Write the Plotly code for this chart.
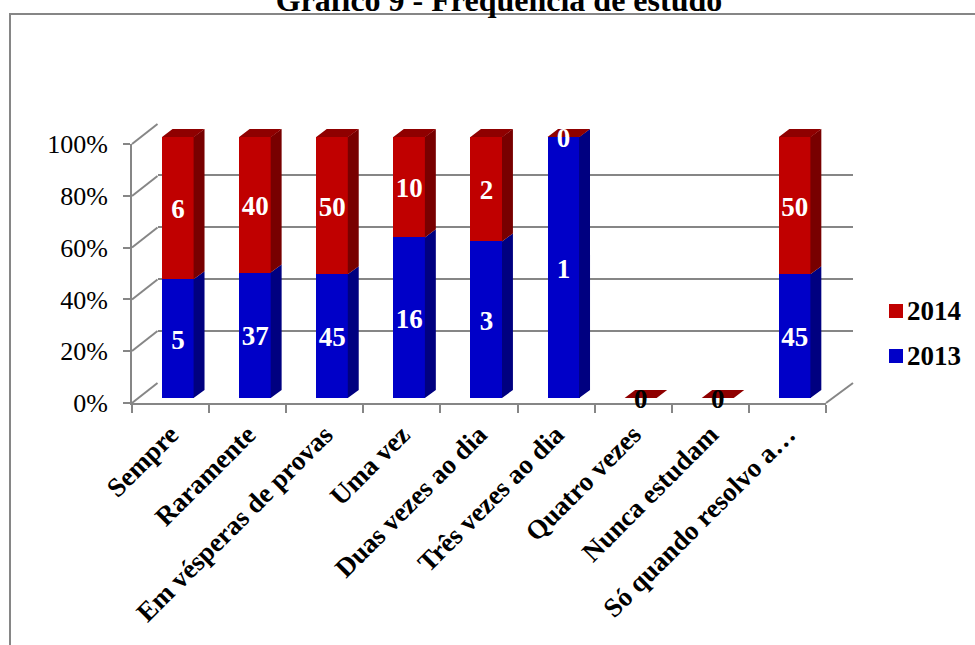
import plotly.graph_objects as go

categories = ["Sempre", "Raramente", "Em vésperas de provas", "Uma vez", "Duas vezes ao dia",
              "Três vezes ao dia", "Quatro vezes", "Nunca estudam", "Só quando resolvo a…"]
values_2013 = [5, 37, 45, 16, 3, 1, 0, 0, 45]
values_2014 = [6, 40, 50, 10, 2, 0, 0, 0, 50]
series_names = ["2014", "2013"]

W, H = 975, 645
GREY = "#868686"
FONT = "Liberation Serif"
RED, RED_SIDE, RED_TOP = "#C00000", "#780000", "#8F0000"
BLUE, BLUE_SIDE = "#0000C8", "#000080"
BAR_W = 0.415
DX, DY = 0.136, 3.07
SEAM = 0.006
LABEL_DROP = 1.3


def px(x):
    return x / W


def py(y):
    return 1 - y / H


idx = list(range(len(categories)))
totals = [a + b for a, b in zip(values_2013, values_2014)]
pct13 = [100 * a / t if t else 0 for a, t in zip(values_2013, totals)]
pct14 = [100 * b / t if t else 0 for b, t in zip(values_2014, totals)]
tops = [a + b for a, b in zip(pct13, pct14)]


def side_faces(lower, upper):
    xs, ys = [], []
    for i, lo, hi in zip(idx, lower, upper):
        if hi <= lo:
            continue
        r = i + BAR_W / 2
        xs += [r - SEAM, r + DX, r + DX, r - SEAM, r - SEAM, None]
        ys += [lo, lo + DY, hi + DY, hi, lo, None]
    return xs, ys


def top_faces(level):
    xs, ys = [], []
    for i, y in zip(idx, level):
        l, r = i - BAR_W / 2, i + BAR_W / 2
        xs += [l, r, r + DX, l + DX, l, None]
        ys += [y, y, y + DY, y + DY, y, None]
    return xs, ys


fig = go.Figure()

# back wall (gridlines)
fig.add_trace(go.Scatter(x=[0], y=[0], mode="none", showlegend=False, hoverinfo="skip",
                         xaxis="x", yaxis="y"))
# front frame (tick labels)
fig.add_trace(go.Scatter(x=categories, y=[0] * len(categories), mode="none", showlegend=False,
                         hoverinfo="skip", xaxis="x2", yaxis="y2"))

# bars
fig.add_trace(go.Bar(x=idx, y=values_2013, name="2013", marker_color=BLUE, width=BAR_W,
                     marker_line_width=0, xaxis="x3", yaxis="y3", hoverinfo="skip"))
fig.add_trace(go.Bar(x=idx, y=values_2014, name="2014", marker_color=RED, width=BAR_W,
                     marker_line_width=0, xaxis="x3", yaxis="y3", hoverinfo="skip"))

zeros = [0] * len(idx)
for (lo, hi, col) in [(zeros, pct13, BLUE_SIDE), (pct13, tops, RED_SIDE)]:
    xs, ys = side_faces(lo, hi)
    fig.add_trace(go.Scatter(x=xs, y=ys, mode="none", fill="toself", fillcolor=col,
                             showlegend=False, hoverinfo="skip", xaxis="x3", yaxis="y3",
                             cliponaxis=False))
xs, ys = top_faces(tops)
fig.add_trace(go.Scatter(x=xs, y=ys, mode="none", fill="toself", fillcolor=RED_TOP,
                         showlegend=False, hoverinfo="skip", xaxis="x3", yaxis="y3",
                         cliponaxis=False))

# data labels
lab13 = [i for i in idx if values_2013[i] > 0]
fig.add_trace(go.Scatter(x=lab13, y=[pct13[i] / 2 - LABEL_DROP for i in lab13],
                         text=[str(values_2013[i]) for i in lab13], mode="text",
                         textfont=dict(family=FONT, size=27, color="white", weight="bold"),
                         textposition="middle center", showlegend=False, hoverinfo="skip",
                         xaxis="x3", yaxis="y3", cliponaxis=False))
fig.add_trace(go.Scatter(x=idx, y=[a + b / 2 - LABEL_DROP for a, b in zip(pct13, pct14)],
                         text=[str(v) for v in values_2014], mode="text",
                         textfont=dict(family=FONT, size=27, weight="bold",
                                       color=["black" if t == 0 else "white" for t in totals]),
                         textposition="middle center", showlegend=False, hoverinfo="skip",
                         xaxis="x3", yaxis="y3", cliponaxis=False))

shapes = [dict(type="rect", xref="paper", yref="paper", x0=px(10), x1=px(1100), y0=py(700), y1=py(14),
               line=dict(color=GREY, width=2), layer="below")]
# left wall and floor diagonals
for y in [144, 196, 247.5, 299.5, 351, 403]:
    shapes.append(dict(type="line", xref="paper", yref="paper", x0=px(132), x1=px(157.5),
                       y0=py(y), y1=py(y - 20), line=dict(color=GREY, width=2), layer="below"))
shapes.append(dict(type="line", xref="paper", yref="paper", x0=px(826), x1=px(853),
                   y0=py(403), y1=py(383), line=dict(color=GREY, width=2), layer="below"))

# legend: swatches and labels
annotations = []
for name, col, y_mid in zip(series_names, [RED, BLUE], [311, 356]):
    shapes.append(dict(type="rect", xref="paper", yref="paper", x0=px(889), x1=px(903),
                       y0=py(y_mid - 7), y1=py(y_mid + 7), fillcolor=col, line=dict(width=0)))
    annotations.append(dict(text=f"<b>{name}</b>", xref="paper", yref="paper", x=px(905), y=py(y_mid),
                            xanchor="left", yanchor="middle", showarrow=False,
                            font=dict(family=FONT, size=27, color="black")))

fig.update_layout(
    width=W, height=H, autosize=False,
    margin=dict(l=0, r=0, t=0, b=0, autoexpand=False),
    paper_bgcolor="white", plot_bgcolor="rgba(0,0,0,0)",
    barmode="stack", barnorm="percent",
    font=dict(family=FONT, color="black"),
    title=dict(text="<b>Gráfico 9 - Frequência de estudo</b>", x=499 / W, xanchor="center",
               y=1.0, yanchor="middle", yref="paper", font=dict(family=FONT, size=32, color="black")),
    showlegend=False,
    shapes=shapes,
    annotations=annotations,
    # back wall
    xaxis=dict(domain=[px(157.5), px(853)], range=[0, 1], visible=False, fixedrange=True),
    yaxis=dict(domain=[py(383), py(123.5)], range=[0, 100], dtick=20, showgrid=True,
               gridcolor=GREY, gridwidth=2, showticklabels=False, showline=False, zeroline=False,
               ticks="", anchor="x", fixedrange=True),
    # front frame
    xaxis2=dict(domain=[px(132), px(826)], range=[-0.5, 8.5], type="category",
                categoryorder="array", categoryarray=categories, tickson="boundaries",
                ticks="outside", ticklen=8, tickwidth=2, tickcolor=GREY, showline=True,
                linecolor=GREY, linewidth=2, showgrid=False, zeroline=False, tickangle=-45,
                ticklabelstandoff=3,
                tickfont=dict(family=FONT, size=27, color="black", weight="bold"),
                anchor="y2", fixedrange=True),
    yaxis2=dict(domain=[py(403), py(144)], range=[0, 100], tickmode="linear", tick0=0, dtick=20,
                ticksuffix="%", ticks="outside", ticklen=7, tickwidth=2, tickcolor=GREY,
                showline=True, linecolor=GREY, linewidth=2, showgrid=False, zeroline=False,
                ticklabelstandoff=10,
                tickfont=dict(family=FONT, size=26, color="black"),
                anchor="x2", fixedrange=True),
    # bars: range extended so the depth faces remain inside the plot area
    xaxis3=dict(domain=[px(139.5), px(833.4)], range=[-0.5, 8.5], visible=False, fixedrange=True,
                anchor="y3"),
    yaxis3=dict(domain=[py(398 + 13.05), py(137 - 13.05)], range=[-5, 105], visible=False,
                fixedrange=True, anchor="x3"),
)

fig.write_html("out.html", config=dict(displayModeBar=False),
               post_script="document.body.style.margin='0';document.documentElement.style.overflow='hidden';")
